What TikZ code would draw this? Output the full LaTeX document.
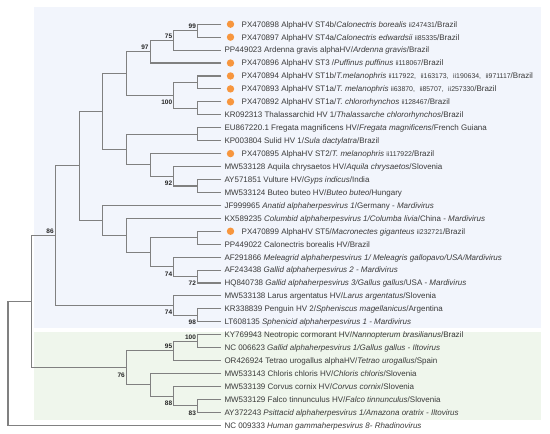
\documentclass[tikz,border=0pt]{standalone}
\usepackage{fontspec}
\setmainfont{Liberation Sans}
\definecolor{bluebg}{HTML}{F2F5FC}
\definecolor{greenbg}{HTML}{EFF6EC}
\definecolor{treegray}{HTML}{808080}
\definecolor{txtgray}{HTML}{3A3A3A}
\definecolor{dotorange}{HTML}{F7963E}
\newcommand{\sid}[1]{{\fontsize{6.9}{7}\selectfont #1}}
\newcommand{\idsep}{,\hspace{2.6pt} }
\begin{document}
\begin{tikzpicture}[x=1pt,y=-1pt,
  branch/.style={draw=treegray, line width=1.1pt},
  leaftext/.style={anchor=base west, inner sep=0pt, yshift=-2.9pt, text=txtgray, font=\fontsize{8}{9}\selectfont},
  bootabove/.style={anchor=south east, inner sep=0pt, xshift=-1.5pt, yshift=1.8pt, text=black!85, font=\fontsize{6.5}{7}\selectfont\bfseries},
  bootbelow/.style={anchor=north east, inner sep=0pt, xshift=-1.5pt, yshift=-4.6pt, text=black!85, font=\fontsize{6.5}{7}\selectfont\bfseries},
  dotmark/.style={circle, fill=dotorange, inner sep=0pt, minimum size=7.4pt}]
\useasboundingbox (0,0) rectangle (550,434);
\fill[white] (0,0) rectangle (550,434);
\fill[bluebg] (34.3,7.3) rectangle (541,328.3);
\fill[greenbg] (34.3,331.7) rectangle (541,420);

% leaf tips
\foreach \i in {1,...,32} \coordinate (l\i) at (221.3,{24.2+12.94*(\i-1)});

% internal nodes
\coordinate (A) at (197.6,30.67);
\coordinate (B) at (173.9,40.375);
\coordinate (C) at (150.2,51.70);
\coordinate (Nd) at (197.6,82.43);
\coordinate (Ne) at (197.6,108.31);
\coordinate (Nf) at (173.9,95.37);
\coordinate (D) at (126.5,73.53);
\coordinate (Ng) at (197.6,134.19);
\coordinate (Nh) at (197.6,185.95);
\coordinate (Ni) at (173.9,176.245);
\coordinate (Nj) at (150.2,164.92);
\coordinate (E) at (126.5,149.56);
\coordinate (F) at (102.8,111.54);
\coordinate (K) at (197.6,237.71);
\coordinate (M) at (197.6,276.53);
\coordinate (L) at (173.9,266.83);
\coordinate (J) at (150.2,252.27);
\coordinate (I) at (126.5,235.28);
\coordinate (H) at (102.8,220.32);
\coordinate (G) at (79.1,165.93);
\coordinate (Ok) at (197.6,315.35);
\coordinate (O) at (173.9,305.65);
\coordinate (N) at (55.4,235.79);
\coordinate (S) at (197.6,341.23);
\coordinate (R) at (173.9,350.94);
\coordinate (V) at (197.6,405.93);
\coordinate (U) at (173.9,396.23);
\coordinate (T) at (150.2,384.90);
\coordinate (Q) at (126.5,367.92);
\coordinate (P) at (31.7,301.86);
\coordinate (root) at (8.0,363.6);

% branches
\draw[branch] (l1) -| (A) |- (l2);
\draw[branch] (A) -| (B) |- (l3);
\draw[branch] (B) -| (C) |- (l4);
\draw[branch] (l5) -| (Nd) |- (l6);
\draw[branch] (l7) -| (Ne) |- (l8);
\draw[branch] (Nd) -| (Nf) |- (Ne);
\draw[branch] (C) -| (D) |- (Nf);
\draw[branch] (l9) -| (Ng) |- (l10);
\draw[branch] (l13) -| (Nh) |- (l14);
\draw[branch] (l12) -| (Ni) |- (Nh);
\draw[branch] (l11) -| (Nj) |- (Ni);
\draw[branch] (Ng) -| (E) |- (Nj);
\draw[branch] (D) -| (F) |- (E);
\draw[branch] (l17) -| (K) |- (l18);
\draw[branch] (l20) -| (M) |- (l21);
\draw[branch] (l19) -| (L) |- (M);
\draw[branch] (K) -| (J) |- (L);
\draw[branch] (l16) -| (I) |- (J);
\draw[branch] (l15) -| (H) |- (I);
\draw[branch] (F) -| (G) |- (H);
\draw[branch] (l23) -| (Ok) |- (l24);
\draw[branch] (l22) -| (O) |- (Ok);
\draw[branch] (G) -| (N) |- (O);
\draw[branch] (l25) -| (S) |- (l26);
\draw[branch] (S) -| (R) |- (l27);
\draw[branch] (l30) -| (V) |- (l31);
\draw[branch] (l29) -| (U) |- (V);
\draw[branch] (l28) -| (T) |- (U);
\draw[branch] (R) -| (Q) |- (T);
\draw[branch] (N) -| (P) |- (Q);
\draw[branch] (P) -| (root) |- (l32);

% orange markers
\foreach \i in {1,2,4,5,6,7,11,17} \node[dotmark] (d\i) at ([xshift=9.2pt]l\i) {};

% leaf labels
\node[leaftext] (t1) at ([xshift=20.2pt]l1) {PX470898 AlphaHV ST4b/\textit{Calonectris borealis} \sid{ii247431}/Brazil};
\node[leaftext] (t2) at ([xshift=20.2pt]l2) {PX470897 AlphaHV ST4a/\textit{Calonectris edwardsii} \sid{ii85335}/Brazil};
\node[leaftext] (t3) at ([xshift=3pt]l3) {PP449023 Ardenna gravis alphaHV/\textit{Ardenna gravis}/Brazil};
\node[leaftext] (t4) at ([xshift=20.2pt]l4) {PX470896 AlphaHV ST3 /\textit{Puffinus puffinus} \sid{ii118067}/Brazil};
\node[leaftext] (t5) at ([xshift=20.2pt]l5) {PX470894 AlphaHV ST1b/\textit{T.melanophris} \sid{ii117922\idsep ii163173\idsep ii190634\idsep ii971117}/Brazil};
\node[leaftext] (t6) at ([xshift=20.2pt]l6) {PX470893 AlphaHV ST1a/\textit{T. melanophris} \sid{ii63870\idsep ii85707\idsep ii257330}/Brazil};
\node[leaftext] (t7) at ([xshift=20.2pt]l7) {PX470892 AlphaHV ST1a/\textit{T. chlororhynchos} \sid{ii128467}/Brazil};
\node[leaftext] (t8) at ([xshift=3pt]l8) {KR092313 Thalassarchid HV 1/\textit{Thalassarche chlororhynchos}/Brazil};
\node[leaftext] (t9) at ([xshift=3pt]l9) {EU867220.1 Fregata magnificens HV/\textit{Fregata magnificens}/French Guiana};
\node[leaftext] (t10) at ([xshift=3pt]l10) {KP003804 Sulid HV 1/\textit{Sula dactylatra}/Brazil};
\node[leaftext] (t11) at ([xshift=20.2pt]l11) {PX470895 AlphaHV ST2/\textit{T. melanophris} \sid{ii117922}/Brazil};
\node[leaftext] (t12) at ([xshift=3pt]l12) {MW533128 Aquila chrysaetos HV/\textit{Aquila chrysaetos}/Slovenia};
\node[leaftext] (t13) at ([xshift=3pt]l13) {AY571851 Vulture HV/\textit{Gyps indicus}/India};
\node[leaftext] (t14) at ([xshift=3pt]l14) {MW533124 Buteo buteo HV/\textit{Buteo buteo}/Hungary};
\node[leaftext] (t15) at ([xshift=3pt]l15) {JF999965 \textit{Anatid alphaherpesvirus 1}/Germany - \textit{Mardivirus}};
\node[leaftext] (t16) at ([xshift=3pt]l16) {KX589235 \textit{Columbid alphaherpesvirus 1/Columba livia}/China - \textit{Mardivirus}};
\node[leaftext] (t17) at ([xshift=20.2pt]l17) {PX470899 AlphaHV ST5/\textit{Macronectes giganteus} \sid{ii232721}/Brazil};
\node[leaftext] (t18) at ([xshift=3pt]l18) {PP449022 Calonectris borealis HV/Brazil};
\node[leaftext] (t19) at ([xshift=3pt]l19) {AF291866 \textit{Meleagrid alphaherpesvirus 1/ Meleagris gallopavo/USA/Mardivirus}};
\node[leaftext] (t20) at ([xshift=3pt]l20) {AF243438 \textit{Gallid alphaherpesvirus 2 - Mardivirus}};
\node[leaftext] (t21) at ([xshift=3pt]l21) {HQ840738 \textit{Gallid alphaherpesvirus 3/Gallus gallus}/USA - \textit{Mardivirus}};
\node[leaftext] (t22) at ([xshift=3pt]l22) {MW533138 Larus argentatus HV/\textit{Larus argentatus}/Slovenia};
\node[leaftext] (t23) at ([xshift=3pt]l23) {KR338839 Penguin HV 2/\textit{Spheniscus magellanicus}/Argentina};
\node[leaftext] (t24) at ([xshift=3pt]l24) {LT608135 \textit{Sphenicid alphaherpesvirus 1 - Mardivirus}};
\node[leaftext] (t25) at ([xshift=3pt]l25) {KY769943 Neotropic cormorant HV/\textit{Nannopterum brasilianus}/Brazil};
\node[leaftext] (t26) at ([xshift=3pt]l26) {NC 006623 \textit{Gallid alphaherpesvirus 1/Gallus gallus - Iltovirus}};
\node[leaftext] (t27) at ([xshift=3pt]l27) {OR426924 Tetrao urogallus alphaHV/\textit{Tetrao urogallus}/Spain};
\node[leaftext] (t28) at ([xshift=3pt]l28) {MW533143 Chloris chloris HV/\textit{Chloris chloris}/Slovenia};
\node[leaftext] (t29) at ([xshift=3pt]l29) {MW533139 Corvus cornix HV/\textit{Corvus cornix}/Slovenia};
\node[leaftext] (t30) at ([xshift=3pt]l30) {MW533129 Falco tinnunculus HV/\textit{Falco tinnunculus}/Slovenia};
\node[leaftext] (t31) at ([xshift=3pt]l31) {AY372243 \textit{Psittacid alphaherpesvirus 1/Amazona oratrix - Iltovirus}};
\node[leaftext] (t32) at ([xshift=3pt]l32) {NC 009333 \textit{Human gammaherpesvirus 8- Rhadinovirus}};

% bootstrap values
\node[bootabove] (bA) at (A) {99};
\node[bootabove] (bB) at (B) {75};
\node[bootabove] (bC) at (C) {97};
\node[bootbelow] (bNf) at (Nf) {100};
\node[bootbelow] (bNi) at (Ni) {92};
\node[bootabove] (bN) at (N) {86};
\node[bootbelow] (bL) at (L) {74};
\node[bootbelow] (bM) at (M) {72};
\node[bootbelow] (bO) at (O) {74};
\node[bootbelow] (bOk) at (Ok) {98};
\node[bootabove] (bS) at (S) {100};
\node[bootabove] (bR) at (R) {95};
\node[bootbelow] (bQ) at (Q) {76};
\node[bootbelow] (bU) at (U) {88};
\node[bootbelow] (bV) at (V) {83};
\end{tikzpicture}
\end{document}
